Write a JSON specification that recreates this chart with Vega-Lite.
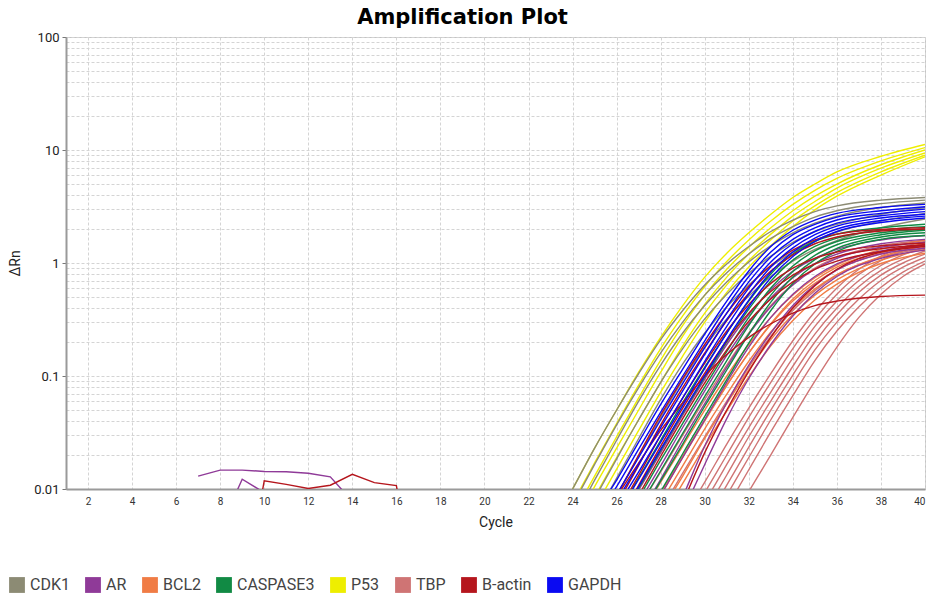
{
  "$schema": "https://vega.github.io/schema/vega-lite/v6.json",
  "autosize": {"type": "none"},
  "width": 859,
  "height": 452,
  "padding": {"left": 66, "top": 37, "right": 9, "bottom": 113},
  "background": "white",
  "title": {"text": "Amplification Plot", "font": "DejaVu Sans", "fontSize": 21, "fontWeight": "bold", "color": "#000", "anchor": "middle", "frame": "group", "dx": -33, "dy": 27, "offset": 13, "baseline": "alphabetic"},
  "config": {"view": {"stroke": "#c4c4c4"}},
  "data": {"values": [
    {"g":"P53","w":"p1","c":23,"v":0.0045},{"g":"P53","w":"p1","c":24,"v":0.01},{"g":"P53","w":"p1","c":25,"v":0.023},{"g":"P53","w":"p1","c":26,"v":0.05},{"g":"P53","w":"p1","c":27,"v":0.108},{"g":"P53","w":"p1","c":28,"v":0.22},{"g":"P53","w":"p1","c":29,"v":0.42},{"g":"P53","w":"p1","c":30,"v":0.75},{"g":"P53","w":"p1","c":31,"v":1.22},{"g":"P53","w":"p1","c":32,"v":1.85},{"g":"P53","w":"p1","c":33,"v":2.7},{"g":"P53","w":"p1","c":34,"v":3.8},{"g":"P53","w":"p1","c":35,"v":5.0},{"g":"P53","w":"p1","c":36,"v":6.4},{"g":"P53","w":"p1","c":38,"v":8.8},{"g":"P53","w":"p1","c":40,"v":11.2},
    {"g":"P53","w":"p2","c":23,"v":0.0034},{"g":"P53","w":"p2","c":24,"v":0.0075},{"g":"P53","w":"p2","c":25,"v":0.017},{"g":"P53","w":"p2","c":26,"v":0.038},{"g":"P53","w":"p2","c":27,"v":0.083},{"g":"P53","w":"p2","c":28,"v":0.175},{"g":"P53","w":"p2","c":29,"v":0.34},{"g":"P53","w":"p2","c":30,"v":0.62},{"g":"P53","w":"p2","c":31,"v":1.03},{"g":"P53","w":"p2","c":32,"v":1.6},{"g":"P53","w":"p2","c":33,"v":2.35},{"g":"P53","w":"p2","c":34,"v":3.3},{"g":"P53","w":"p2","c":35,"v":4.4},{"g":"P53","w":"p2","c":36,"v":5.6},{"g":"P53","w":"p2","c":38,"v":8.0},{"g":"P53","w":"p2","c":40,"v":10.5},
    {"g":"P53","w":"p3","c":24,"v":0.0058},{"g":"P53","w":"p3","c":25,"v":0.013},{"g":"P53","w":"p3","c":26,"v":0.029},{"g":"P53","w":"p3","c":27,"v":0.064},{"g":"P53","w":"p3","c":28,"v":0.138},{"g":"P53","w":"p3","c":29,"v":0.28},{"g":"P53","w":"p3","c":30,"v":0.52},{"g":"P53","w":"p3","c":31,"v":0.88},{"g":"P53","w":"p3","c":32,"v":1.38},{"g":"P53","w":"p3","c":33,"v":2.05},{"g":"P53","w":"p3","c":34,"v":2.9},{"g":"P53","w":"p3","c":35,"v":3.9},{"g":"P53","w":"p3","c":36,"v":5.0},{"g":"P53","w":"p3","c":38,"v":7.4},{"g":"P53","w":"p3","c":40,"v":10.0},
    {"g":"P53","w":"p4","c":24,"v":0.0044},{"g":"P53","w":"p4","c":25,"v":0.0105},{"g":"P53","w":"p4","c":26,"v":0.023},{"g":"P53","w":"p4","c":27,"v":0.05},{"g":"P53","w":"p4","c":28,"v":0.108},{"g":"P53","w":"p4","c":29,"v":0.225},{"g":"P53","w":"p4","c":30,"v":0.43},{"g":"P53","w":"p4","c":31,"v":0.75},{"g":"P53","w":"p4","c":32,"v":1.2},{"g":"P53","w":"p4","c":33,"v":1.8},{"g":"P53","w":"p4","c":34,"v":2.6},{"g":"P53","w":"p4","c":35,"v":3.5},{"g":"P53","w":"p4","c":36,"v":4.6},{"g":"P53","w":"p4","c":38,"v":6.9},{"g":"P53","w":"p4","c":40,"v":9.4},
    {"g":"P53","w":"p5","c":24,"v":0.0038},{"g":"P53","w":"p5","c":25,"v":0.0085},{"g":"P53","w":"p5","c":26,"v":0.019},{"g":"P53","w":"p5","c":27,"v":0.041},{"g":"P53","w":"p5","c":28,"v":0.088},{"g":"P53","w":"p5","c":29,"v":0.185},{"g":"P53","w":"p5","c":30,"v":0.36},{"g":"P53","w":"p5","c":31,"v":0.64},{"g":"P53","w":"p5","c":32,"v":1.05},{"g":"P53","w":"p5","c":33,"v":1.6},{"g":"P53","w":"p5","c":34,"v":2.35},{"g":"P53","w":"p5","c":35,"v":3.2},{"g":"P53","w":"p5","c":36,"v":4.2},{"g":"P53","w":"p5","c":38,"v":6.4},{"g":"P53","w":"p5","c":40,"v":9.0},
    {"g":"P53","w":"p6","c":24,"v":0.003},{"g":"P53","w":"p6","c":25,"v":0.0068},{"g":"P53","w":"p6","c":26,"v":0.015},{"g":"P53","w":"p6","c":27,"v":0.033},{"g":"P53","w":"p6","c":28,"v":0.072},{"g":"P53","w":"p6","c":29,"v":0.15},{"g":"P53","w":"p6","c":30,"v":0.3},{"g":"P53","w":"p6","c":31,"v":0.55},{"g":"P53","w":"p6","c":32,"v":0.92},{"g":"P53","w":"p6","c":33,"v":1.42},{"g":"P53","w":"p6","c":34,"v":2.1},{"g":"P53","w":"p6","c":35,"v":2.95},{"g":"P53","w":"p6","c":36,"v":3.9},{"g":"P53","w":"p6","c":38,"v":6.0},{"g":"P53","w":"p6","c":40,"v":8.7},
    {"g":"CDK1","w":"k1","c":23,"v":0.0045},{"g":"CDK1","w":"k1","c":24,"v":0.01},{"g":"CDK1","w":"k1","c":25,"v":0.023},{"g":"CDK1","w":"k1","c":26,"v":0.05},{"g":"CDK1","w":"k1","c":27,"v":0.105},{"g":"CDK1","w":"k1","c":28,"v":0.21},{"g":"CDK1","w":"k1","c":29,"v":0.38},{"g":"CDK1","w":"k1","c":30,"v":0.64},{"g":"CDK1","w":"k1","c":31,"v":0.98},{"g":"CDK1","w":"k1","c":32,"v":1.4},{"g":"CDK1","w":"k1","c":33,"v":1.9},{"g":"CDK1","w":"k1","c":34,"v":2.4},{"g":"CDK1","w":"k1","c":35,"v":2.85},{"g":"CDK1","w":"k1","c":36,"v":3.2},{"g":"CDK1","w":"k1","c":38,"v":3.6},{"g":"CDK1","w":"k1","c":40,"v":3.8},
    {"g":"CDK1","w":"k2","c":23,"v":0.0032},{"g":"CDK1","w":"k2","c":24,"v":0.0072},{"g":"CDK1","w":"k2","c":25,"v":0.0165},{"g":"CDK1","w":"k2","c":26,"v":0.037},{"g":"CDK1","w":"k2","c":27,"v":0.079},{"g":"CDK1","w":"k2","c":28,"v":0.16},{"g":"CDK1","w":"k2","c":29,"v":0.3},{"g":"CDK1","w":"k2","c":30,"v":0.52},{"g":"CDK1","w":"k2","c":31,"v":0.82},{"g":"CDK1","w":"k2","c":32,"v":1.2},{"g":"CDK1","w":"k2","c":33,"v":1.65},{"g":"CDK1","w":"k2","c":34,"v":2.1},{"g":"CDK1","w":"k2","c":35,"v":2.55},{"g":"CDK1","w":"k2","c":36,"v":2.9},{"g":"CDK1","w":"k2","c":38,"v":3.35},{"g":"CDK1","w":"k2","c":40,"v":3.6},
    {"g":"CDK1","w":"k3","c":24,"v":0.0052},{"g":"CDK1","w":"k3","c":25,"v":0.012},{"g":"CDK1","w":"k3","c":26,"v":0.027},{"g":"CDK1","w":"k3","c":27,"v":0.06},{"g":"CDK1","w":"k3","c":28,"v":0.125},{"g":"CDK1","w":"k3","c":29,"v":0.24},{"g":"CDK1","w":"k3","c":30,"v":0.42},{"g":"CDK1","w":"k3","c":31,"v":0.68},{"g":"CDK1","w":"k3","c":32,"v":1.02},{"g":"CDK1","w":"k3","c":33,"v":1.42},{"g":"CDK1","w":"k3","c":34,"v":1.85},{"g":"CDK1","w":"k3","c":35,"v":2.25},{"g":"CDK1","w":"k3","c":36,"v":2.6},{"g":"CDK1","w":"k3","c":38,"v":3.1},{"g":"CDK1","w":"k3","c":40,"v":3.4},
    {"g":"CDK1","w":"k4","c":24,"v":0.0036},{"g":"CDK1","w":"k4","c":25,"v":0.0082},{"g":"CDK1","w":"k4","c":26,"v":0.0185},{"g":"CDK1","w":"k4","c":27,"v":0.041},{"g":"CDK1","w":"k4","c":28,"v":0.088},{"g":"CDK1","w":"k4","c":29,"v":0.175},{"g":"CDK1","w":"k4","c":30,"v":0.32},{"g":"CDK1","w":"k4","c":31,"v":0.53},{"g":"CDK1","w":"k4","c":32,"v":0.81},{"g":"CDK1","w":"k4","c":33,"v":1.15},{"g":"CDK1","w":"k4","c":34,"v":1.52},{"g":"CDK1","w":"k4","c":35,"v":1.9},{"g":"CDK1","w":"k4","c":36,"v":2.2},{"g":"CDK1","w":"k4","c":38,"v":2.7},{"g":"CDK1","w":"k4","c":40,"v":3.1},
    {"g":"CDK1","w":"k5","c":25,"v":0.0055},{"g":"CDK1","w":"k5","c":26,"v":0.0125},{"g":"CDK1","w":"k5","c":27,"v":0.028},{"g":"CDK1","w":"k5","c":28,"v":0.062},{"g":"CDK1","w":"k5","c":29,"v":0.128},{"g":"CDK1","w":"k5","c":30,"v":0.24},{"g":"CDK1","w":"k5","c":31,"v":0.41},{"g":"CDK1","w":"k5","c":32,"v":0.64},{"g":"CDK1","w":"k5","c":33,"v":0.93},{"g":"CDK1","w":"k5","c":34,"v":1.25},{"g":"CDK1","w":"k5","c":35,"v":1.58},{"g":"CDK1","w":"k5","c":36,"v":1.88},{"g":"CDK1","w":"k5","c":38,"v":2.35},{"g":"CDK1","w":"k5","c":40,"v":2.75},
    {"g":"CDK1","w":"k6","c":25,"v":0.0038},{"g":"CDK1","w":"k6","c":26,"v":0.0087},{"g":"CDK1","w":"k6","c":27,"v":0.0195},{"g":"CDK1","w":"k6","c":28,"v":0.043},{"g":"CDK1","w":"k6","c":29,"v":0.092},{"g":"CDK1","w":"k6","c":30,"v":0.18},{"g":"CDK1","w":"k6","c":31,"v":0.32},{"g":"CDK1","w":"k6","c":32,"v":0.51},{"g":"CDK1","w":"k6","c":33,"v":0.76},{"g":"CDK1","w":"k6","c":34,"v":1.04},{"g":"CDK1","w":"k6","c":35,"v":1.32},{"g":"CDK1","w":"k6","c":36,"v":1.58},{"g":"CDK1","w":"k6","c":38,"v":2.05},{"g":"CDK1","w":"k6","c":40,"v":2.45},
    {"g":"TBP","w":"t1","c":29,"v":0.0055},{"g":"TBP","w":"t1","c":30,"v":0.0115},{"g":"TBP","w":"t1","c":31,"v":0.025},{"g":"TBP","w":"t1","c":32,"v":0.052},{"g":"TBP","w":"t1","c":33,"v":0.105},{"g":"TBP","w":"t1","c":34,"v":0.205},{"g":"TBP","w":"t1","c":35,"v":0.37},{"g":"TBP","w":"t1","c":36,"v":0.6},{"g":"TBP","w":"t1","c":37,"v":0.88},{"g":"TBP","w":"t1","c":38,"v":1.15},{"g":"TBP","w":"t1","c":39,"v":1.38},{"g":"TBP","w":"t1","c":40,"v":1.55},
    {"g":"TBP","w":"t2","c":29,"v":0.0045},{"g":"TBP","w":"t2","c":30,"v":0.0093},{"g":"TBP","w":"t2","c":31,"v":0.02},{"g":"TBP","w":"t2","c":32,"v":0.043},{"g":"TBP","w":"t2","c":33,"v":0.088},{"g":"TBP","w":"t2","c":34,"v":0.175},{"g":"TBP","w":"t2","c":35,"v":0.32},{"g":"TBP","w":"t2","c":36,"v":0.53},{"g":"TBP","w":"t2","c":37,"v":0.79},{"g":"TBP","w":"t2","c":38,"v":1.05},{"g":"TBP","w":"t2","c":39,"v":1.28},{"g":"TBP","w":"t2","c":40,"v":1.45},
    {"g":"TBP","w":"t3","c":29,"v":0.0036},{"g":"TBP","w":"t3","c":30,"v":0.0076},{"g":"TBP","w":"t3","c":31,"v":0.0165},{"g":"TBP","w":"t3","c":32,"v":0.035},{"g":"TBP","w":"t3","c":33,"v":0.072},{"g":"TBP","w":"t3","c":34,"v":0.145},{"g":"TBP","w":"t3","c":35,"v":0.275},{"g":"TBP","w":"t3","c":36,"v":0.46},{"g":"TBP","w":"t3","c":37,"v":0.7},{"g":"TBP","w":"t3","c":38,"v":0.95},{"g":"TBP","w":"t3","c":39,"v":1.18},{"g":"TBP","w":"t3","c":40,"v":1.38},
    {"g":"TBP","w":"t4","c":30,"v":0.0062},{"g":"TBP","w":"t4","c":31,"v":0.0133},{"g":"TBP","w":"t4","c":32,"v":0.029},{"g":"TBP","w":"t4","c":33,"v":0.06},{"g":"TBP","w":"t4","c":34,"v":0.122},{"g":"TBP","w":"t4","c":35,"v":0.235},{"g":"TBP","w":"t4","c":36,"v":0.4},{"g":"TBP","w":"t4","c":37,"v":0.62},{"g":"TBP","w":"t4","c":38,"v":0.86},{"g":"TBP","w":"t4","c":39,"v":1.08},{"g":"TBP","w":"t4","c":40,"v":1.28},
    {"g":"TBP","w":"t5","c":30,"v":0.005},{"g":"TBP","w":"t5","c":31,"v":0.0108},{"g":"TBP","w":"t5","c":32,"v":0.0235},{"g":"TBP","w":"t5","c":33,"v":0.05},{"g":"TBP","w":"t5","c":34,"v":0.102},{"g":"TBP","w":"t5","c":35,"v":0.2},{"g":"TBP","w":"t5","c":36,"v":0.35},{"g":"TBP","w":"t5","c":37,"v":0.55},{"g":"TBP","w":"t5","c":38,"v":0.78},{"g":"TBP","w":"t5","c":39,"v":1.0},{"g":"TBP","w":"t5","c":40,"v":1.2},
    {"g":"TBP","w":"t6","c":30,"v":0.004},{"g":"TBP","w":"t6","c":31,"v":0.0088},{"g":"TBP","w":"t6","c":32,"v":0.019},{"g":"TBP","w":"t6","c":33,"v":0.041},{"g":"TBP","w":"t6","c":34,"v":0.085},{"g":"TBP","w":"t6","c":35,"v":0.17},{"g":"TBP","w":"t6","c":36,"v":0.3},{"g":"TBP","w":"t6","c":37,"v":0.48},{"g":"TBP","w":"t6","c":38,"v":0.7},{"g":"TBP","w":"t6","c":39,"v":0.92},{"g":"TBP","w":"t6","c":40,"v":1.12},
    {"g":"TBP","w":"t7","c":31,"v":0.0068},{"g":"TBP","w":"t7","c":32,"v":0.0148},{"g":"TBP","w":"t7","c":33,"v":0.032},{"g":"TBP","w":"t7","c":34,"v":0.067},{"g":"TBP","w":"t7","c":35,"v":0.137},{"g":"TBP","w":"t7","c":36,"v":0.25},{"g":"TBP","w":"t7","c":37,"v":0.41},{"g":"TBP","w":"t7","c":38,"v":0.61},{"g":"TBP","w":"t7","c":39,"v":0.83},{"g":"TBP","w":"t7","c":40,"v":1.04},
    {"g":"TBP","w":"t8","c":31,"v":0.0045},{"g":"TBP","w":"t8","c":32,"v":0.0095},{"g":"TBP","w":"t8","c":33,"v":0.02},{"g":"TBP","w":"t8","c":34,"v":0.043},{"g":"TBP","w":"t8","c":35,"v":0.09},{"g":"TBP","w":"t8","c":36,"v":0.18},{"g":"TBP","w":"t8","c":37,"v":0.33},{"g":"TBP","w":"t8","c":38,"v":0.53},{"g":"TBP","w":"t8","c":39,"v":0.76},{"g":"TBP","w":"t8","c":40,"v":0.98},
    {"g":"TBP","w":"t9","c":27,"v":0.0068},{"g":"TBP","w":"t9","c":28,"v":0.0142},{"g":"TBP","w":"t9","c":29,"v":0.03},{"g":"TBP","w":"t9","c":30,"v":0.062},{"g":"TBP","w":"t9","c":31,"v":0.125},{"g":"TBP","w":"t9","c":32,"v":0.24},{"g":"TBP","w":"t9","c":33,"v":0.42},{"g":"TBP","w":"t9","c":34,"v":0.65},{"g":"TBP","w":"t9","c":35,"v":0.9},{"g":"TBP","w":"t9","c":36,"v":1.12},{"g":"TBP","w":"t9","c":38,"v":1.42},{"g":"TBP","w":"t9","c":40,"v":1.58},
    {"g":"TBP","w":"t10","c":28,"v":0.0065},{"g":"TBP","w":"t10","c":29,"v":0.0138},{"g":"TBP","w":"t10","c":30,"v":0.029},{"g":"TBP","w":"t10","c":31,"v":0.06},{"g":"TBP","w":"t10","c":32,"v":0.12},{"g":"TBP","w":"t10","c":33,"v":0.225},{"g":"TBP","w":"t10","c":34,"v":0.38},{"g":"TBP","w":"t10","c":35,"v":0.57},{"g":"TBP","w":"t10","c":36,"v":0.78},{"g":"TBP","w":"t10","c":38,"v":1.12},{"g":"TBP","w":"t10","c":40,"v":1.35},
    {"g":"BCL2","w":"o1","c":27,"v":0.0055},{"g":"BCL2","w":"o1","c":28,"v":0.0115},{"g":"BCL2","w":"o1","c":29,"v":0.024},{"g":"BCL2","w":"o1","c":30,"v":0.05},{"g":"BCL2","w":"o1","c":31,"v":0.1},{"g":"BCL2","w":"o1","c":32,"v":0.19},{"g":"BCL2","w":"o1","c":33,"v":0.33},{"g":"BCL2","w":"o1","c":34,"v":0.52},{"g":"BCL2","w":"o1","c":35,"v":0.74},{"g":"BCL2","w":"o1","c":36,"v":0.96},{"g":"BCL2","w":"o1","c":38,"v":1.32},{"g":"BCL2","w":"o1","c":40,"v":1.6},
    {"g":"BCL2","w":"o2","c":27,"v":0.0045},{"g":"BCL2","w":"o2","c":28,"v":0.0093},{"g":"BCL2","w":"o2","c":29,"v":0.0195},{"g":"BCL2","w":"o2","c":30,"v":0.041},{"g":"BCL2","w":"o2","c":31,"v":0.083},{"g":"BCL2","w":"o2","c":32,"v":0.16},{"g":"BCL2","w":"o2","c":33,"v":0.285},{"g":"BCL2","w":"o2","c":34,"v":0.46},{"g":"BCL2","w":"o2","c":35,"v":0.66},{"g":"BCL2","w":"o2","c":36,"v":0.87},{"g":"BCL2","w":"o2","c":38,"v":1.22},{"g":"BCL2","w":"o2","c":40,"v":1.5},
    {"g":"BCL2","w":"o3","c":27,"v":0.0036},{"g":"BCL2","w":"o3","c":28,"v":0.0076},{"g":"BCL2","w":"o3","c":29,"v":0.016},{"g":"BCL2","w":"o3","c":30,"v":0.034},{"g":"BCL2","w":"o3","c":31,"v":0.069},{"g":"BCL2","w":"o3","c":32,"v":0.135},{"g":"BCL2","w":"o3","c":33,"v":0.245},{"g":"BCL2","w":"o3","c":34,"v":0.4},{"g":"BCL2","w":"o3","c":35,"v":0.59},{"g":"BCL2","w":"o3","c":36,"v":0.79},{"g":"BCL2","w":"o3","c":38,"v":1.14},{"g":"BCL2","w":"o3","c":40,"v":1.42},
    {"g":"BCL2","w":"o4","c":28,"v":0.0062},{"g":"BCL2","w":"o4","c":29,"v":0.013},{"g":"BCL2","w":"o4","c":30,"v":0.028},{"g":"BCL2","w":"o4","c":31,"v":0.057},{"g":"BCL2","w":"o4","c":32,"v":0.113},{"g":"BCL2","w":"o4","c":33,"v":0.21},{"g":"BCL2","w":"o4","c":34,"v":0.35},{"g":"BCL2","w":"o4","c":35,"v":0.52},{"g":"BCL2","w":"o4","c":36,"v":0.71},{"g":"BCL2","w":"o4","c":38,"v":1.06},{"g":"BCL2","w":"o4","c":40,"v":1.32},
    {"g":"BCL2","w":"o5","c":28,"v":0.0053},{"g":"BCL2","w":"o5","c":29,"v":0.0112},{"g":"BCL2","w":"o5","c":30,"v":0.024},{"g":"BCL2","w":"o5","c":31,"v":0.049},{"g":"BCL2","w":"o5","c":32,"v":0.098},{"g":"BCL2","w":"o5","c":33,"v":0.185},{"g":"BCL2","w":"o5","c":34,"v":0.31},{"g":"BCL2","w":"o5","c":35,"v":0.47},{"g":"BCL2","w":"o5","c":36,"v":0.65},{"g":"BCL2","w":"o5","c":38,"v":0.99},{"g":"BCL2","w":"o5","c":40,"v":1.22},
    {"g":"BCL2","w":"o6","c":27,"v":0.0043},{"g":"BCL2","w":"o6","c":28,"v":0.0088},{"g":"BCL2","w":"o6","c":29,"v":0.019},{"g":"BCL2","w":"o6","c":30,"v":0.04},{"g":"BCL2","w":"o6","c":31,"v":0.082},{"g":"BCL2","w":"o6","c":32,"v":0.16},{"g":"BCL2","w":"o6","c":33,"v":0.29},{"g":"BCL2","w":"o6","c":34,"v":0.48},{"g":"BCL2","w":"o6","c":35,"v":0.7},{"g":"BCL2","w":"o6","c":36,"v":0.92},{"g":"BCL2","w":"o6","c":38,"v":1.25},{"g":"BCL2","w":"o6","c":40,"v":1.42},
    {"g":"AR","w":"r1","c":26,"v":0.0045},{"g":"AR","w":"r1","c":27,"v":0.0098},{"g":"AR","w":"r1","c":28,"v":0.021},{"g":"AR","w":"r1","c":29,"v":0.045},{"g":"AR","w":"r1","c":30,"v":0.094},{"g":"AR","w":"r1","c":31,"v":0.19},{"g":"AR","w":"r1","c":32,"v":0.35},{"g":"AR","w":"r1","c":33,"v":0.58},{"g":"AR","w":"r1","c":34,"v":0.85},{"g":"AR","w":"r1","c":35,"v":1.1},{"g":"AR","w":"r1","c":36,"v":1.32},{"g":"AR","w":"r1","c":38,"v":1.6},{"g":"AR","w":"r1","c":40,"v":1.75},
    {"g":"AR","w":"r2","c":26,"v":0.0035},{"g":"AR","w":"r2","c":27,"v":0.0075},{"g":"AR","w":"r2","c":28,"v":0.016},{"g":"AR","w":"r2","c":29,"v":0.035},{"g":"AR","w":"r2","c":30,"v":0.074},{"g":"AR","w":"r2","c":31,"v":0.152},{"g":"AR","w":"r2","c":32,"v":0.29},{"g":"AR","w":"r2","c":33,"v":0.49},{"g":"AR","w":"r2","c":34,"v":0.74},{"g":"AR","w":"r2","c":35,"v":0.99},{"g":"AR","w":"r2","c":36,"v":1.2},{"g":"AR","w":"r2","c":38,"v":1.48},{"g":"AR","w":"r2","c":40,"v":1.62},
    {"g":"AR","w":"r3","c":27,"v":0.0057},{"g":"AR","w":"r3","c":28,"v":0.0122},{"g":"AR","w":"r3","c":29,"v":0.027},{"g":"AR","w":"r3","c":30,"v":0.057},{"g":"AR","w":"r3","c":31,"v":0.12},{"g":"AR","w":"r3","c":32,"v":0.235},{"g":"AR","w":"r3","c":33,"v":0.41},{"g":"AR","w":"r3","c":34,"v":0.64},{"g":"AR","w":"r3","c":35,"v":0.88},{"g":"AR","w":"r3","c":36,"v":1.1},{"g":"AR","w":"r3","c":38,"v":1.38},{"g":"AR","w":"r3","c":40,"v":1.52},
    {"g":"AR","w":"r4","c":27,"v":0.0041},{"g":"AR","w":"r4","c":28,"v":0.0088},{"g":"AR","w":"r4","c":29,"v":0.019},{"g":"AR","w":"r4","c":30,"v":0.041},{"g":"AR","w":"r4","c":31,"v":0.088},{"g":"AR","w":"r4","c":32,"v":0.18},{"g":"AR","w":"r4","c":33,"v":0.33},{"g":"AR","w":"r4","c":34,"v":0.53},{"g":"AR","w":"r4","c":35,"v":0.76},{"g":"AR","w":"r4","c":36,"v":0.98},{"g":"AR","w":"r4","c":38,"v":1.28},{"g":"AR","w":"r4","c":40,"v":1.42},
    {"g":"AR","w":"r5","c":28,"v":0.003},{"g":"AR","w":"r5","c":29,"v":0.0085},{"g":"AR","w":"r5","c":30,"v":0.024},{"g":"AR","w":"r5","c":31,"v":0.058},{"g":"AR","w":"r5","c":32,"v":0.125},{"g":"AR","w":"r5","c":33,"v":0.24},{"g":"AR","w":"r5","c":34,"v":0.42},{"g":"AR","w":"r5","c":35,"v":0.64},{"g":"AR","w":"r5","c":36,"v":0.87},{"g":"AR","w":"r5","c":38,"v":1.2},{"g":"AR","w":"r5","c":40,"v":1.35},
    {"g":"AR","w":"r6","c":28,"v":0.0022},{"g":"AR","w":"r6","c":29,"v":0.0062},{"g":"AR","w":"r6","c":30,"v":0.0165},{"g":"AR","w":"r6","c":31,"v":0.042},{"g":"AR","w":"r6","c":32,"v":0.095},{"g":"AR","w":"r6","c":33,"v":0.19},{"g":"AR","w":"r6","c":34,"v":0.34},{"g":"AR","w":"r6","c":35,"v":0.54},{"g":"AR","w":"r6","c":36,"v":0.76},{"g":"AR","w":"r6","c":38,"v":1.1},{"g":"AR","w":"r6","c":40,"v":1.3},
    {"g":"AR","w":"r7","c":7,"v":0.013},{"g":"AR","w":"r7","c":8,"v":0.0147},{"g":"AR","w":"r7","c":9,"v":0.0147},{"g":"AR","w":"r7","c":10,"v":0.0143},{"g":"AR","w":"r7","c":11,"v":0.0142},{"g":"AR","w":"r7","c":12,"v":0.0138},{"g":"AR","w":"r7","c":13,"v":0.0128},{"g":"AR","w":"r7","c":14,"v":0.0078},
    {"g":"AR","w":"r8","c":8,"v":0.0045},{"g":"AR","w":"r8","c":9,"v":0.0122},{"g":"AR","w":"r8","c":10,"v":0.0093},
    {"g":"CASPASE3","w":"s1","c":26,"v":0.0058},{"g":"CASPASE3","w":"s1","c":27,"v":0.0125},{"g":"CASPASE3","w":"s1","c":28,"v":0.027},{"g":"CASPASE3","w":"s1","c":29,"v":0.058},{"g":"CASPASE3","w":"s1","c":30,"v":0.12},{"g":"CASPASE3","w":"s1","c":31,"v":0.24},{"g":"CASPASE3","w":"s1","c":32,"v":0.46},{"g":"CASPASE3","w":"s1","c":33,"v":0.8},{"g":"CASPASE3","w":"s1","c":34,"v":1.2},{"g":"CASPASE3","w":"s1","c":35,"v":1.55},{"g":"CASPASE3","w":"s1","c":36,"v":1.8},{"g":"CASPASE3","w":"s1","c":38,"v":2.05},{"g":"CASPASE3","w":"s1","c":40,"v":2.2},
    {"g":"CASPASE3","w":"s2","c":26,"v":0.0047},{"g":"CASPASE3","w":"s2","c":27,"v":0.0102},{"g":"CASPASE3","w":"s2","c":28,"v":0.022},{"g":"CASPASE3","w":"s2","c":29,"v":0.047},{"g":"CASPASE3","w":"s2","c":30,"v":0.098},{"g":"CASPASE3","w":"s2","c":31,"v":0.2},{"g":"CASPASE3","w":"s2","c":32,"v":0.39},{"g":"CASPASE3","w":"s2","c":33,"v":0.69},{"g":"CASPASE3","w":"s2","c":34,"v":1.06},{"g":"CASPASE3","w":"s2","c":35,"v":1.4},{"g":"CASPASE3","w":"s2","c":36,"v":1.66},{"g":"CASPASE3","w":"s2","c":38,"v":1.95},{"g":"CASPASE3","w":"s2","c":40,"v":2.1},
    {"g":"CASPASE3","w":"s3","c":26,"v":0.004},{"g":"CASPASE3","w":"s3","c":27,"v":0.0083},{"g":"CASPASE3","w":"s3","c":28,"v":0.018},{"g":"CASPASE3","w":"s3","c":29,"v":0.038},{"g":"CASPASE3","w":"s3","c":30,"v":0.08},{"g":"CASPASE3","w":"s3","c":31,"v":0.165},{"g":"CASPASE3","w":"s3","c":32,"v":0.33},{"g":"CASPASE3","w":"s3","c":33,"v":0.6},{"g":"CASPASE3","w":"s3","c":34,"v":0.94},{"g":"CASPASE3","w":"s3","c":35,"v":1.28},{"g":"CASPASE3","w":"s3","c":36,"v":1.55},{"g":"CASPASE3","w":"s3","c":38,"v":1.85},{"g":"CASPASE3","w":"s3","c":40,"v":2.0},
    {"g":"CASPASE3","w":"s4","c":27,"v":0.0068},{"g":"CASPASE3","w":"s4","c":28,"v":0.0145},{"g":"CASPASE3","w":"s4","c":29,"v":0.031},{"g":"CASPASE3","w":"s4","c":30,"v":0.066},{"g":"CASPASE3","w":"s4","c":31,"v":0.137},{"g":"CASPASE3","w":"s4","c":32,"v":0.28},{"g":"CASPASE3","w":"s4","c":33,"v":0.52},{"g":"CASPASE3","w":"s4","c":34,"v":0.84},{"g":"CASPASE3","w":"s4","c":35,"v":1.17},{"g":"CASPASE3","w":"s4","c":36,"v":1.45},{"g":"CASPASE3","w":"s4","c":38,"v":1.78},{"g":"CASPASE3","w":"s4","c":40,"v":1.95},
    {"g":"CASPASE3","w":"s5","c":27,"v":0.0055},{"g":"CASPASE3","w":"s5","c":28,"v":0.0118},{"g":"CASPASE3","w":"s5","c":29,"v":0.025},{"g":"CASPASE3","w":"s5","c":30,"v":0.054},{"g":"CASPASE3","w":"s5","c":31,"v":0.113},{"g":"CASPASE3","w":"s5","c":32,"v":0.235},{"g":"CASPASE3","w":"s5","c":33,"v":0.45},{"g":"CASPASE3","w":"s5","c":34,"v":0.75},{"g":"CASPASE3","w":"s5","c":35,"v":1.07},{"g":"CASPASE3","w":"s5","c":36,"v":1.35},{"g":"CASPASE3","w":"s5","c":38,"v":1.7},{"g":"CASPASE3","w":"s5","c":40,"v":1.85},
    {"g":"CASPASE3","w":"s6","c":27,"v":0.0045},{"g":"CASPASE3","w":"s6","c":28,"v":0.0095},{"g":"CASPASE3","w":"s6","c":29,"v":0.0205},{"g":"CASPASE3","w":"s6","c":30,"v":0.044},{"g":"CASPASE3","w":"s6","c":31,"v":0.093},{"g":"CASPASE3","w":"s6","c":32,"v":0.195},{"g":"CASPASE3","w":"s6","c":33,"v":0.38},{"g":"CASPASE3","w":"s6","c":34,"v":0.66},{"g":"CASPASE3","w":"s6","c":35,"v":0.98},{"g":"CASPASE3","w":"s6","c":36,"v":1.27},{"g":"CASPASE3","w":"s6","c":38,"v":1.62},{"g":"CASPASE3","w":"s6","c":40,"v":1.75},
    {"g":"B-actin","w":"a1","c":25,"v":0.0042},{"g":"B-actin","w":"a1","c":26,"v":0.0088},{"g":"B-actin","w":"a1","c":27,"v":0.02},{"g":"B-actin","w":"a1","c":28,"v":0.045},{"g":"B-actin","w":"a1","c":29,"v":0.095},{"g":"B-actin","w":"a1","c":30,"v":0.19},{"g":"B-actin","w":"a1","c":31,"v":0.36},{"g":"B-actin","w":"a1","c":32,"v":0.62},{"g":"B-actin","w":"a1","c":33,"v":0.95},{"g":"B-actin","w":"a1","c":34,"v":1.3},{"g":"B-actin","w":"a1","c":35,"v":1.6},{"g":"B-actin","w":"a1","c":36,"v":1.8},{"g":"B-actin","w":"a1","c":38,"v":1.98},{"g":"B-actin","w":"a1","c":40,"v":2.05},
    {"g":"B-actin","w":"a2","c":25,"v":0.0033},{"g":"B-actin","w":"a2","c":26,"v":0.0072},{"g":"B-actin","w":"a2","c":27,"v":0.0162},{"g":"B-actin","w":"a2","c":28,"v":0.037},{"g":"B-actin","w":"a2","c":29,"v":0.079},{"g":"B-actin","w":"a2","c":30,"v":0.16},{"g":"B-actin","w":"a2","c":31,"v":0.31},{"g":"B-actin","w":"a2","c":32,"v":0.54},{"g":"B-actin","w":"a2","c":33,"v":0.85},{"g":"B-actin","w":"a2","c":34,"v":1.18},{"g":"B-actin","w":"a2","c":35,"v":1.48},{"g":"B-actin","w":"a2","c":36,"v":1.7},{"g":"B-actin","w":"a2","c":38,"v":1.92},{"g":"B-actin","w":"a2","c":40,"v":2.0},
    {"g":"B-actin","w":"a3","c":26,"v":0.006},{"g":"B-actin","w":"a3","c":27,"v":0.0132},{"g":"B-actin","w":"a3","c":28,"v":0.03},{"g":"B-actin","w":"a3","c":29,"v":0.064},{"g":"B-actin","w":"a3","c":30,"v":0.13},{"g":"B-actin","w":"a3","c":31,"v":0.25},{"g":"B-actin","w":"a3","c":32,"v":0.43},{"g":"B-actin","w":"a3","c":33,"v":0.66},{"g":"B-actin","w":"a3","c":34,"v":0.9},{"g":"B-actin","w":"a3","c":35,"v":1.1},{"g":"B-actin","w":"a3","c":36,"v":1.25},{"g":"B-actin","w":"a3","c":38,"v":1.42},{"g":"B-actin","w":"a3","c":40,"v":1.5},
    {"g":"B-actin","w":"a4","c":26,"v":0.0048},{"g":"B-actin","w":"a4","c":27,"v":0.0108},{"g":"B-actin","w":"a4","c":28,"v":0.024},{"g":"B-actin","w":"a4","c":29,"v":0.052},{"g":"B-actin","w":"a4","c":30,"v":0.106},{"g":"B-actin","w":"a4","c":31,"v":0.205},{"g":"B-actin","w":"a4","c":32,"v":0.36},{"g":"B-actin","w":"a4","c":33,"v":0.56},{"g":"B-actin","w":"a4","c":34,"v":0.78},{"g":"B-actin","w":"a4","c":35,"v":0.98},{"g":"B-actin","w":"a4","c":36,"v":1.14},{"g":"B-actin","w":"a4","c":38,"v":1.34},{"g":"B-actin","w":"a4","c":40,"v":1.45},
    {"g":"B-actin","w":"a5","c":26,"v":0.004},{"g":"B-actin","w":"a5","c":27,"v":0.0088},{"g":"B-actin","w":"a5","c":28,"v":0.0195},{"g":"B-actin","w":"a5","c":29,"v":0.042},{"g":"B-actin","w":"a5","c":30,"v":0.087},{"g":"B-actin","w":"a5","c":31,"v":0.17},{"g":"B-actin","w":"a5","c":32,"v":0.305},{"g":"B-actin","w":"a5","c":33,"v":0.48},{"g":"B-actin","w":"a5","c":34,"v":0.68},{"g":"B-actin","w":"a5","c":35,"v":0.88},{"g":"B-actin","w":"a5","c":36,"v":1.04},{"g":"B-actin","w":"a5","c":38,"v":1.26},{"g":"B-actin","w":"a5","c":40,"v":1.4},
    {"g":"B-actin","w":"a6","c":25,"v":0.004},{"g":"B-actin","w":"a6","c":26,"v":0.0085},{"g":"B-actin","w":"a6","c":27,"v":0.017},{"g":"B-actin","w":"a6","c":28,"v":0.033},{"g":"B-actin","w":"a6","c":29,"v":0.058},{"g":"B-actin","w":"a6","c":30,"v":0.1},{"g":"B-actin","w":"a6","c":31,"v":0.155},{"g":"B-actin","w":"a6","c":32,"v":0.22},{"g":"B-actin","w":"a6","c":33,"v":0.29},{"g":"B-actin","w":"a6","c":34,"v":0.36},{"g":"B-actin","w":"a6","c":35,"v":0.42},{"g":"B-actin","w":"a6","c":36,"v":0.46},{"g":"B-actin","w":"a6","c":38,"v":0.505},{"g":"B-actin","w":"a6","c":40,"v":0.52},
    {"g":"B-actin","w":"a7","c":28,"v":0.0025},{"g":"B-actin","w":"a7","c":29,"v":0.0075},{"g":"B-actin","w":"a7","c":30,"v":0.021},{"g":"B-actin","w":"a7","c":31,"v":0.05},{"g":"B-actin","w":"a7","c":32,"v":0.11},{"g":"B-actin","w":"a7","c":33,"v":0.22},{"g":"B-actin","w":"a7","c":34,"v":0.4},{"g":"B-actin","w":"a7","c":35,"v":0.63},{"g":"B-actin","w":"a7","c":36,"v":0.88},{"g":"B-actin","w":"a7","c":38,"v":1.25},{"g":"B-actin","w":"a7","c":40,"v":1.45},
    {"g":"B-actin","w":"a8","c":9,"v":0.001},{"g":"B-actin","w":"a8","c":10,"v":0.0118},{"g":"B-actin","w":"a8","c":11,"v":0.011},{"g":"B-actin","w":"a8","c":12,"v":0.0101},{"g":"B-actin","w":"a8","c":13,"v":0.0108},{"g":"B-actin","w":"a8","c":14,"v":0.0135},{"g":"B-actin","w":"a8","c":15,"v":0.0114},{"g":"B-actin","w":"a8","c":16,"v":0.0107},{"g":"B-actin","w":"a8","c":17,"v":0.001},
    {"g":"GAPDH","w":"b1","c":25,"v":0.006},{"g":"GAPDH","w":"b1","c":26,"v":0.012},{"g":"GAPDH","w":"b1","c":27,"v":0.026},{"g":"GAPDH","w":"b1","c":28,"v":0.056},{"g":"GAPDH","w":"b1","c":29,"v":0.115},{"g":"GAPDH","w":"b1","c":30,"v":0.235},{"g":"GAPDH","w":"b1","c":31,"v":0.46},{"g":"GAPDH","w":"b1","c":32,"v":0.85},{"g":"GAPDH","w":"b1","c":33,"v":1.4},{"g":"GAPDH","w":"b1","c":34,"v":1.95},{"g":"GAPDH","w":"b1","c":35,"v":2.4},{"g":"GAPDH","w":"b1","c":36,"v":2.75},{"g":"GAPDH","w":"b1","c":38,"v":3.1},{"g":"GAPDH","w":"b1","c":40,"v":3.3},
    {"g":"GAPDH","w":"b2","c":25,"v":0.0052},{"g":"GAPDH","w":"b2","c":26,"v":0.0105},{"g":"GAPDH","w":"b2","c":27,"v":0.0225},{"g":"GAPDH","w":"b2","c":28,"v":0.048},{"g":"GAPDH","w":"b2","c":29,"v":0.1},{"g":"GAPDH","w":"b2","c":30,"v":0.205},{"g":"GAPDH","w":"b2","c":31,"v":0.41},{"g":"GAPDH","w":"b2","c":32,"v":0.76},{"g":"GAPDH","w":"b2","c":33,"v":1.25},{"g":"GAPDH","w":"b2","c":34,"v":1.78},{"g":"GAPDH","w":"b2","c":35,"v":2.2},{"g":"GAPDH","w":"b2","c":36,"v":2.55},{"g":"GAPDH","w":"b2","c":38,"v":2.9},{"g":"GAPDH","w":"b2","c":40,"v":3.15},
    {"g":"GAPDH","w":"b3","c":25,"v":0.0045},{"g":"GAPDH","w":"b3","c":26,"v":0.009},{"g":"GAPDH","w":"b3","c":27,"v":0.019},{"g":"GAPDH","w":"b3","c":28,"v":0.041},{"g":"GAPDH","w":"b3","c":29,"v":0.086},{"g":"GAPDH","w":"b3","c":30,"v":0.178},{"g":"GAPDH","w":"b3","c":31,"v":0.36},{"g":"GAPDH","w":"b3","c":32,"v":0.68},{"g":"GAPDH","w":"b3","c":33,"v":1.13},{"g":"GAPDH","w":"b3","c":34,"v":1.62},{"g":"GAPDH","w":"b3","c":35,"v":2.05},{"g":"GAPDH","w":"b3","c":36,"v":2.4},{"g":"GAPDH","w":"b3","c":38,"v":2.75},{"g":"GAPDH","w":"b3","c":40,"v":3.0},
    {"g":"GAPDH","w":"b4","c":25,"v":0.0037},{"g":"GAPDH","w":"b4","c":26,"v":0.0078},{"g":"GAPDH","w":"b4","c":27,"v":0.0165},{"g":"GAPDH","w":"b4","c":28,"v":0.035},{"g":"GAPDH","w":"b4","c":29,"v":0.074},{"g":"GAPDH","w":"b4","c":30,"v":0.155},{"g":"GAPDH","w":"b4","c":31,"v":0.315},{"g":"GAPDH","w":"b4","c":32,"v":0.6},{"g":"GAPDH","w":"b4","c":33,"v":1.02},{"g":"GAPDH","w":"b4","c":34,"v":1.48},{"g":"GAPDH","w":"b4","c":35,"v":1.9},{"g":"GAPDH","w":"b4","c":36,"v":2.25},{"g":"GAPDH","w":"b4","c":38,"v":2.62},{"g":"GAPDH","w":"b4","c":40,"v":2.85},
    {"g":"GAPDH","w":"b5","c":25,"v":0.0032},{"g":"GAPDH","w":"b5","c":26,"v":0.0068},{"g":"GAPDH","w":"b5","c":27,"v":0.0142},{"g":"GAPDH","w":"b5","c":28,"v":0.03},{"g":"GAPDH","w":"b5","c":29,"v":0.064},{"g":"GAPDH","w":"b5","c":30,"v":0.135},{"g":"GAPDH","w":"b5","c":31,"v":0.275},{"g":"GAPDH","w":"b5","c":32,"v":0.53},{"g":"GAPDH","w":"b5","c":33,"v":0.92},{"g":"GAPDH","w":"b5","c":34,"v":1.36},{"g":"GAPDH","w":"b5","c":35,"v":1.78},{"g":"GAPDH","w":"b5","c":36,"v":2.12},{"g":"GAPDH","w":"b5","c":38,"v":2.5},{"g":"GAPDH","w":"b5","c":40,"v":2.7},
    {"g":"GAPDH","w":"b6","c":26,"v":0.0058},{"g":"GAPDH","w":"b6","c":27,"v":0.0122},{"g":"GAPDH","w":"b6","c":28,"v":0.026},{"g":"GAPDH","w":"b6","c":29,"v":0.055},{"g":"GAPDH","w":"b6","c":30,"v":0.117},{"g":"GAPDH","w":"b6","c":31,"v":0.24},{"g":"GAPDH","w":"b6","c":32,"v":0.47},{"g":"GAPDH","w":"b6","c":33,"v":0.83},{"g":"GAPDH","w":"b6","c":34,"v":1.25},{"g":"GAPDH","w":"b6","c":35,"v":1.66},{"g":"GAPDH","w":"b6","c":36,"v":2.0},{"g":"GAPDH","w":"b6","c":38,"v":2.38},{"g":"GAPDH","w":"b6","c":40,"v":2.6},
    {"g":"GAPDH","w":"b7","c":26,"v":0.005},{"g":"GAPDH","w":"b7","c":27,"v":0.0105},{"g":"GAPDH","w":"b7","c":28,"v":0.0225},{"g":"GAPDH","w":"b7","c":29,"v":0.048},{"g":"GAPDH","w":"b7","c":30,"v":0.101},{"g":"GAPDH","w":"b7","c":31,"v":0.21},{"g":"GAPDH","w":"b7","c":32,"v":0.41},{"g":"GAPDH","w":"b7","c":33,"v":0.74},{"g":"GAPDH","w":"b7","c":34,"v":1.14},{"g":"GAPDH","w":"b7","c":35,"v":1.55},{"g":"GAPDH","w":"b7","c":36,"v":1.9},{"g":"GAPDH","w":"b7","c":38,"v":2.28},{"g":"GAPDH","w":"b7","c":40,"v":2.5}
  ]},
  "encoding": {
    "x": {
      "field": "c", "type": "quantitative", "title": "Cycle",
      "scale": {"domain": [1, 40], "nice": false, "zero": false},
      "axis": {"values": [2,4,6,8,10,12,14,16,18,20,22,24,26,28,30,32,34,36,38,40], "grid": true, "gridColor": "#d4d4d4", "gridDash": [3, 2], "domainColor": "#9a9a9a", "domainWidth": 2, "ticks": false, "labelPadding": 7, "labelFont": "Roboto", "labelFontSize": 10, "labelColor": "#333", "titleFont": "Roboto", "titleFontSize": 14, "titleFontWeight": "normal", "titleColor": "#222", "titlePadding": 9}
    },
    "y": {
      "field": "v", "type": "quantitative", "title": "ΔRn",
      "scale": {"type": "log", "domain": [0.01, 100], "nice": false},
      "axis": {
        "values": [0.01,0.02,0.03,0.04,0.05,0.06,0.07,0.08,0.09,0.1,0.2,0.3,0.4,0.5,0.6,0.7,0.8,0.9,1,2,3,4,5,6,7,8,9,10,20,30,40,50,60,70,80,90,100],
        "format": "~g",
        "labelExpr": "indexof([0.01,0.1,1,10,100], datum.value) >= 0 ? datum.label : ''",
        "labelOverlap": false,
        "grid": true, "gridColor": "#d4d4d4", "gridDash": [3, 2],
        "domainColor": "#9a9a9a", "domainWidth": 2,
        "tickSize": 4, "tickColor": "#777",
        "tickOpacity": {"condition": {"test": "indexof([0.01,0.1,1,10,100], datum.value) >= 0", "value": 1}, "value": 0},
        "labelPadding": 3, "labelFont": "Roboto", "labelFontSize": 13, "labelColor": "#222",
        "titleFont": "Roboto", "titleFontSize": 14, "titleFontWeight": "normal", "titleColor": "#222", "titlePadding": 11
      }
    },
    "color": {
      "field": "g", "type": "nominal",
      "scale": {"domain": ["CDK1", "AR", "BCL2", "CASPASE3", "P53", "TBP", "B-actin", "GAPDH"], "range": ["#8c8b74", "#8f3a98", "#f07c45", "#118a44", "#eeee00", "#cf7474", "#b5161d", "#0a0af2"]},
      "legend": {
        "orient": "none", "legendX": -57, "legendY": 540, "direction": "horizontal", "title": null,
        "symbolType": "square", "symbolSize": 250, "symbolStrokeWidth": 0,
        "labelFont": "Roboto", "labelFontSize": 16, "labelColor": "#444", "labelOffset": 5, "columnPadding": 15, "padding": 0,
        "encode": {"symbols": {"update": {"fill": {"scale": "color", "field": "value"}, "opacity": {"value": 1}}}}
      }
    },
    "detail": {"field": "w"}
  },
  "layer": [
    {"transform": [{"filter": "datum.c >= 20"}], "mark": {"type": "line", "strokeWidth": 1.4, "interpolate": "monotone", "clip": true}},
    {"transform": [{"filter": "datum.c < 20"}], "mark": {"type": "line", "strokeWidth": 1.4, "clip": true}}
  ]
}
